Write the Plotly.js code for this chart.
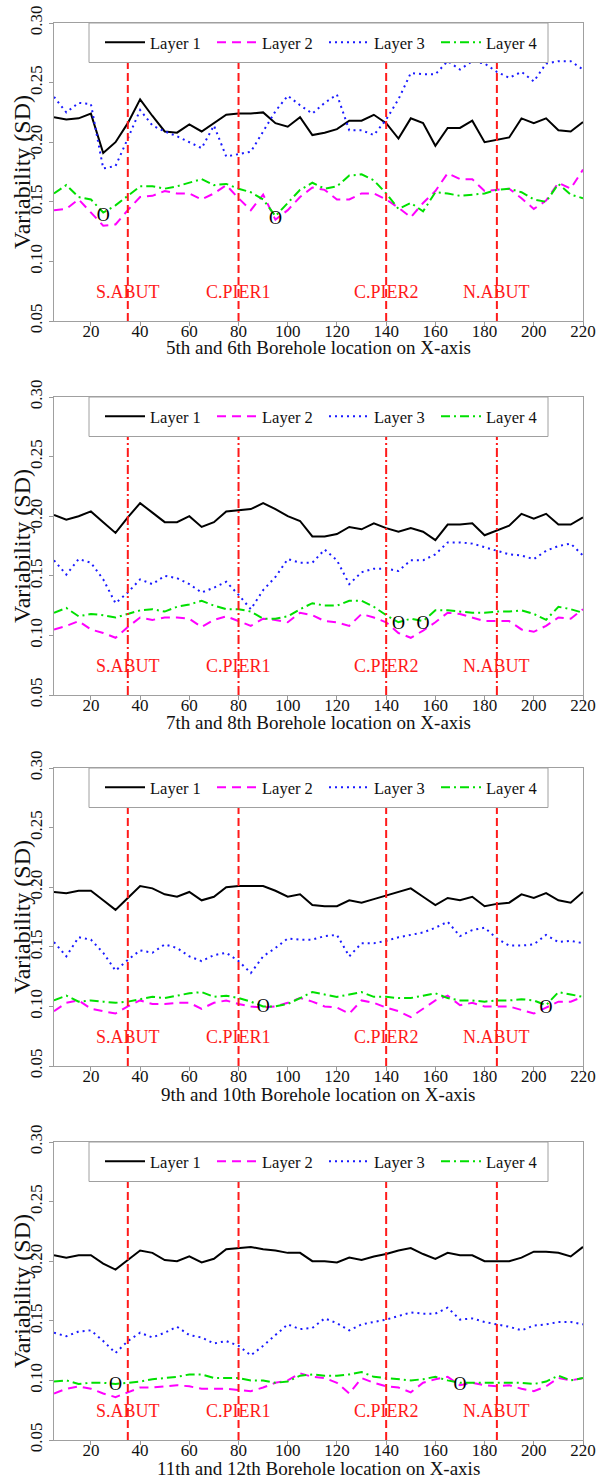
<!DOCTYPE html>
<html>
<head>
<meta charset="utf-8">
<script src="https://cdn.plot.ly/plotly-3.0.1.min.js"></script>
<style>
  html, body { margin: 0; padding: 0; background: #ffffff; }
  #chart { width: 601px; height: 1480px; }
</style>
</head>
<body>
<div id="chart"></div>
<script>
// Borehole positions along the bridge (X-axis)
const boreholeX = [5, 10, 15, 20, 25, 30, 35, 40, 45, 50, 55, 60, 65, 70, 75, 80, 85, 90, 95, 100, 105, 110,
                   115, 120, 125, 130, 135, 140, 145, 150, 155, 160, 165, 170, 175, 180, 185, 190, 195, 200, 205, 210, 215, 220];

const layerNames = ['Layer 1', 'Layer 2', 'Layer 3', 'Layer 4'];

// Structural reference positions
const structureX = [35, 80, 140, 185];
const structureLabels = ['S.ABUT', 'C.PIER1', 'C.PIER2', 'N.ABUT'];
const structureLabelY = 0.074;

// 5th and 6th boreholes
const sd56_layer1 = [0.221, 0.219, 0.220, 0.224, 0.191, 0.200, 0.216, 0.236, 0.222, 0.209, 0.208, 0.215, 0.209, 0.216, 0.223, 0.224, 0.224, 0.225, 0.216, 0.213, 0.221, 0.206,
                     0.208, 0.211, 0.218, 0.218, 0.223, 0.216, 0.203, 0.220, 0.216, 0.197, 0.212, 0.212, 0.218, 0.200, 0.202, 0.204, 0.220, 0.216, 0.220, 0.210, 0.209, 0.217];
const sd56_layer2 = [0.143, 0.144, 0.152, 0.141, 0.130, 0.131, 0.143, 0.154, 0.155, 0.159, 0.157, 0.157, 0.152, 0.157, 0.164, 0.153, 0.143, 0.156, 0.135, 0.143, 0.154, 0.162,
                     0.160, 0.152, 0.152, 0.157, 0.157, 0.152, 0.145, 0.137, 0.149, 0.159, 0.174, 0.169, 0.169, 0.159, 0.160, 0.161, 0.153, 0.144, 0.151, 0.166, 0.161, 0.177];
const sd56_layer3 = [0.238, 0.225, 0.233, 0.232, 0.178, 0.180, 0.203, 0.227, 0.214, 0.209, 0.205, 0.200, 0.195, 0.214, 0.188, 0.190, 0.192, 0.209, 0.226, 0.239, 0.231, 0.224,
                     0.233, 0.240, 0.210, 0.210, 0.206, 0.219, 0.236, 0.258, 0.257, 0.257, 0.268, 0.261, 0.268, 0.266, 0.259, 0.254, 0.259, 0.251, 0.266, 0.268, 0.268, 0.261];
const sd56_layer4 = [0.157, 0.164, 0.154, 0.152, 0.141, 0.147, 0.155, 0.163, 0.163, 0.161, 0.163, 0.166, 0.169, 0.164, 0.165, 0.161, 0.158, 0.152, 0.138, 0.149, 0.160, 0.166,
                     0.161, 0.163, 0.172, 0.173, 0.168, 0.157, 0.144, 0.149, 0.142, 0.158, 0.157, 0.155, 0.156, 0.157, 0.160, 0.161, 0.158, 0.152, 0.150, 0.165, 0.156, 0.153];
const mark56_x = [25, 95];
const mark56_y = [0.138, 0.135];

// 7th and 8th boreholes
const sd78_layer1 = [0.201, 0.197, 0.200, 0.204, 0.195, 0.186, 0.199, 0.211, 0.203, 0.195, 0.195, 0.200, 0.191, 0.195, 0.204, 0.205, 0.206, 0.211, 0.206, 0.200, 0.196, 0.183,
                     0.183, 0.185, 0.191, 0.189, 0.194, 0.190, 0.187, 0.190, 0.187, 0.180, 0.193, 0.193, 0.194, 0.184, 0.188, 0.192, 0.202, 0.198, 0.202, 0.193, 0.193, 0.199];
const sd78_layer2 = [0.105, 0.108, 0.112, 0.105, 0.102, 0.098, 0.107, 0.115, 0.113, 0.115, 0.115, 0.114, 0.107, 0.113, 0.116, 0.112, 0.108, 0.114, 0.113, 0.111, 0.119, 0.117,
                     0.112, 0.111, 0.108, 0.118, 0.115, 0.111, 0.102, 0.098, 0.104, 0.111, 0.119, 0.118, 0.115, 0.112, 0.112, 0.112, 0.105, 0.103, 0.108, 0.115, 0.114, 0.122];
const sd78_layer3 = [0.163, 0.151, 0.164, 0.161, 0.147, 0.127, 0.136, 0.147, 0.143, 0.150, 0.148, 0.143, 0.136, 0.140, 0.145, 0.134, 0.122, 0.138, 0.149, 0.164, 0.161, 0.161,
                     0.172, 0.163, 0.143, 0.153, 0.156, 0.156, 0.154, 0.163, 0.163, 0.168, 0.178, 0.178, 0.177, 0.174, 0.171, 0.168, 0.167, 0.164, 0.171, 0.175, 0.177, 0.167];
const sd78_layer4 = [0.119, 0.123, 0.116, 0.118, 0.117, 0.115, 0.118, 0.121, 0.122, 0.120, 0.124, 0.126, 0.129, 0.125, 0.122, 0.122, 0.120, 0.114, 0.114, 0.116, 0.122, 0.127,
                     0.125, 0.125, 0.129, 0.129, 0.124, 0.117, 0.111, 0.114, 0.112, 0.121, 0.121, 0.120, 0.119, 0.119, 0.120, 0.120, 0.121, 0.118, 0.113, 0.124, 0.122, 0.119];
const mark78_x = [145, 155];
const mark78_y = [0.109, 0.109];

// 9th and 10th boreholes
const sd910_layer1 = [0.196, 0.195, 0.197, 0.197, 0.189, 0.181, 0.191, 0.201, 0.199, 0.194, 0.192, 0.196, 0.189, 0.192, 0.200, 0.201, 0.201, 0.201, 0.197, 0.192, 0.194, 0.185,
                      0.184, 0.184, 0.189, 0.187, 0.190, 0.193, 0.196, 0.199, 0.192, 0.185, 0.191, 0.189, 0.192, 0.184, 0.186, 0.187, 0.194, 0.191, 0.195, 0.189, 0.187, 0.196];
const sd910_layer2 = [0.096, 0.103, 0.105, 0.098, 0.096, 0.094, 0.100, 0.105, 0.102, 0.102, 0.103, 0.103, 0.098, 0.103, 0.105, 0.102, 0.100, 0.099, 0.100, 0.103, 0.107, 0.104,
                      0.100, 0.099, 0.094, 0.105, 0.103, 0.099, 0.096, 0.091, 0.098, 0.105, 0.109, 0.101, 0.103, 0.100, 0.100, 0.100, 0.097, 0.094, 0.099, 0.104, 0.104, 0.108];
const sd910_layer3 = [0.154, 0.142, 0.158, 0.156, 0.145, 0.130, 0.139, 0.147, 0.145, 0.152, 0.149, 0.142, 0.138, 0.143, 0.145, 0.138, 0.128, 0.142, 0.149, 0.157, 0.156, 0.156,
                      0.159, 0.160, 0.142, 0.153, 0.153, 0.155, 0.158, 0.160, 0.162, 0.166, 0.171, 0.159, 0.164, 0.166, 0.157, 0.151, 0.151, 0.152, 0.160, 0.154, 0.155, 0.153];
const sd910_layer4 = [0.105, 0.109, 0.104, 0.105, 0.104, 0.103, 0.104, 0.106, 0.108, 0.107, 0.109, 0.111, 0.112, 0.108, 0.109, 0.107, 0.104, 0.100, 0.100, 0.102, 0.107, 0.112,
                      0.110, 0.108, 0.110, 0.112, 0.108, 0.108, 0.107, 0.107, 0.109, 0.111, 0.107, 0.105, 0.105, 0.104, 0.105, 0.105, 0.106, 0.105, 0.101, 0.112, 0.110, 0.108];
const mark910_x = [90, 205];
const mark910_y = [0.099, 0.098];

// 11th and 12th boreholes
const sd1112_layer1 = [0.205, 0.203, 0.205, 0.205, 0.198, 0.193, 0.201, 0.209, 0.207, 0.201, 0.200, 0.204, 0.199, 0.202, 0.210, 0.211, 0.212, 0.210, 0.209, 0.207, 0.207, 0.200,
                       0.200, 0.199, 0.203, 0.201, 0.204, 0.206, 0.209, 0.211, 0.206, 0.202, 0.207, 0.205, 0.205, 0.200, 0.200, 0.200, 0.203, 0.208, 0.208, 0.207, 0.204, 0.212];
const sd1112_layer2 = [0.089, 0.093, 0.095, 0.093, 0.089, 0.086, 0.090, 0.094, 0.094, 0.095, 0.096, 0.095, 0.093, 0.093, 0.093, 0.092, 0.091, 0.094, 0.098, 0.100, 0.106, 0.103,
                       0.102, 0.098, 0.089, 0.102, 0.098, 0.095, 0.094, 0.090, 0.098, 0.101, 0.103, 0.096, 0.098, 0.096, 0.095, 0.096, 0.093, 0.091, 0.095, 0.102, 0.100, 0.102];
const sd1112_layer3 = [0.140, 0.137, 0.141, 0.142, 0.133, 0.123, 0.133, 0.140, 0.136, 0.140, 0.145, 0.138, 0.136, 0.131, 0.133, 0.129, 0.121, 0.129, 0.138, 0.147, 0.143, 0.144,
                       0.152, 0.148, 0.142, 0.147, 0.149, 0.151, 0.154, 0.157, 0.156, 0.156, 0.161, 0.151, 0.152, 0.149, 0.147, 0.145, 0.142, 0.146, 0.147, 0.149, 0.149, 0.147];
const sd1112_layer4 = [0.099, 0.100, 0.097, 0.098, 0.098, 0.097, 0.098, 0.099, 0.101, 0.102, 0.103, 0.105, 0.105, 0.102, 0.102, 0.102, 0.100, 0.100, 0.098, 0.099, 0.104, 0.105,
                       0.104, 0.104, 0.105, 0.107, 0.103, 0.102, 0.101, 0.100, 0.101, 0.103, 0.100, 0.098, 0.098, 0.098, 0.098, 0.098, 0.098, 0.097, 0.099, 0.104, 0.100, 0.102];
const mark1112_x = [30, 170];
const mark1112_y = [0.096, 0.096];

const panels = [
  { xTitle: '5th and 6th Borehole location on X-axis',   layers: [sd56_layer1, sd56_layer2, sd56_layer3, sd56_layer4],     markX: mark56_x,   markY: mark56_y,   guideDash: '8px,4px' },
  { xTitle: '7th and 8th Borehole location on X-axis',   layers: [sd78_layer1, sd78_layer2, sd78_layer3, sd78_layer4],     markX: mark78_x,   markY: mark78_y,   guideDash: '9px,3px,2px,3px' },
  { xTitle: '9th and 10th Borehole location on X-axis',  layers: [sd910_layer1, sd910_layer2, sd910_layer3, sd910_layer4], markX: mark910_x,  markY: mark910_y,  guideDash: '8px,4px' },
  { xTitle: '11th and 12th Borehole location on X-axis', layers: [sd1112_layer1, sd1112_layer2, sd1112_layer3, sd1112_layer4], markX: mark1112_x, markY: mark1112_y, guideDash: '8px,4px' }
];

// ---- styling / geometry ----
const W = 601, H = 1480;
const plotLeft = 54, plotRight = 583, plotHeight = 298;
const plotTops = [23, 397, 768, 1142];
const xTitleOffsets = [26, 28, 28, 28];
const legendLeft = 89, legendRight = 548, legendHeight = 39.5;
const serif = 'Liberation Serif, Times New Roman, serif';
const Y_MIN = 0.05, Y_MAX = 0.30;

const lineStyles = [
  { color: '#000000', width: 2, dash: 'solid' },
  { color: '#ff00ff', width: 2, dash: '9px,6px' },
  { color: '#1a1aff', width: 2, dash: '2px,4px' },
  { color: '#00e000', width: 2, dash: '9px,4px,2px,4px' }
];

const px2paperY = (py) => 1 - py / H;
const px2paperX = (px) => px / W;
const legendBottomValue = Y_MAX - (legendHeight / plotHeight) * (Y_MAX - Y_MIN);

const traces = [];
const shapes = [];
const annotations = [];
const layout = {
  width: W, height: H,
  margin: { l: 0, r: 0, t: 0, b: 0 },
  paper_bgcolor: '#ffffff',
  plot_bgcolor: '#ffffff',
  font: { family: serif, color: '#111111', size: 17 },
  showlegend: true
};

panels.forEach((panel, i) => {
  const n = i === 0 ? '' : String(i + 1);
  const xa = 'x' + n, ya = 'y' + n;
  const legendId = 'legend' + n;
  const top = plotTops[i], bottom = top + plotHeight;

  panel.layers.forEach((values, k) => {
    traces.push({
      type: 'scatter', mode: 'lines',
      x: boreholeX, y: values,
      name: layerNames[k],
      xaxis: xa, yaxis: ya,
      legend: legendId,
      line: { color: lineStyles[k].color, width: lineStyles[k].width, dash: lineStyles[k].dash },
      hoverinfo: 'skip'
    });
  });

  traces.push({
    type: 'scatter', mode: 'text',
    x: panel.markX, y: panel.markY,
    text: panel.markX.map(() => 'O'),
    textfont: { family: serif, size: 18, color: '#000000' },
    xaxis: xa, yaxis: ya,
    showlegend: false, hoverinfo: 'skip'
  });

  layout['xaxis' + n] = {
    domain: [px2paperX(plotLeft), px2paperX(plotRight)],
    anchor: ya,
    range: [5, 220],
    tickmode: 'array',
    tickvals: [20, 40, 60, 80, 100, 120, 140, 160, 180, 200, 220],
    ticks: 'outside', ticklen: 4, tickcolor: '#999999', tickwidth: 1,
    ticklabelstandoff: -9,
    tickfont: { family: serif, size: 17, color: '#111111' },
    showline: true, mirror: true, linecolor: '#a0a0a0', linewidth: 1,
    showgrid: false, zeroline: false
  };
  layout['yaxis' + n] = {
    domain: [px2paperY(bottom), px2paperY(top)],
    anchor: xa,
    range: [Y_MIN, Y_MAX],
    tickmode: 'array',
    tickvals: [0.05, 0.10, 0.15, 0.20, 0.25, 0.30],
    tickformat: '.2f',
    tickangle: -90,
    ticks: 'outside', ticklen: 4, tickcolor: '#999999', tickwidth: 1,
    tickfont: { family: serif, size: 17, color: '#111111' },
    showline: true, mirror: true, linecolor: '#a0a0a0', linewidth: 1,
    showgrid: false, zeroline: false
  };

  // axis titles
  annotations.push({
    xref: 'paper', yref: ya + ' domain',
    x: px2paperX(22), y: 0.5,
    text: 'Variability (SD)', textangle: -90,
    showarrow: false, xanchor: 'center', yanchor: 'middle',
    font: { family: serif, size: 24, color: '#111111' }
  });
  annotations.push({
    xref: xa + ' domain', yref: 'paper',
    x: 0.5, y: px2paperY(bottom + xTitleOffsets[i]),
    text: panel.xTitle,
    showarrow: false, xanchor: 'center', yanchor: 'middle',
    font: { family: serif, size: 19, color: '#111111' }
  });

  // structure guide lines and their labels
  structureX.forEach((sx, j) => {
    shapes.push({
      type: 'line', xref: xa, yref: ya,
      x0: sx, x1: sx, y0: Y_MIN, y1: legendBottomValue,
      line: { color: '#ff1a1a', width: 2, dash: panel.guideDash },
      layer: 'above'
    });
    annotations.push({
      xref: xa, yref: ya, x: sx, y: structureLabelY,
      text: structureLabels[j], showarrow: false,
      xanchor: 'center', yanchor: 'middle',
      font: { family: serif, size: 18, color: '#ff1a1a' }
    });
  });

  // legend frame
  shapes.push({
    type: 'rect', xref: 'paper', yref: 'paper',
    x0: px2paperX(legendLeft), x1: px2paperX(legendRight),
    y0: px2paperY(top + legendHeight), y1: px2paperY(top),
    line: { color: '#a0a0a0', width: 1 },
    fillcolor: '#ffffff', layer: 'above'
  });

  layout[legendId] = {
    orientation: 'h',
    x: px2paperX(legendLeft + 11), xanchor: 'left',
    y: px2paperY(top + 2), yanchor: 'top',
    bgcolor: 'rgba(0,0,0,0)', borderwidth: 0,
    itemwidth: 40,
    entrywidth: 57, entrywidthmode: 'pixels',
    font: { family: serif, size: 16.5, color: '#111111' }
  };
});

layout.shapes = shapes;
layout.annotations = annotations;

Plotly.newPlot('chart', traces, layout, { displayModeBar: false, staticPlot: true });
</script>
</body>
</html>
